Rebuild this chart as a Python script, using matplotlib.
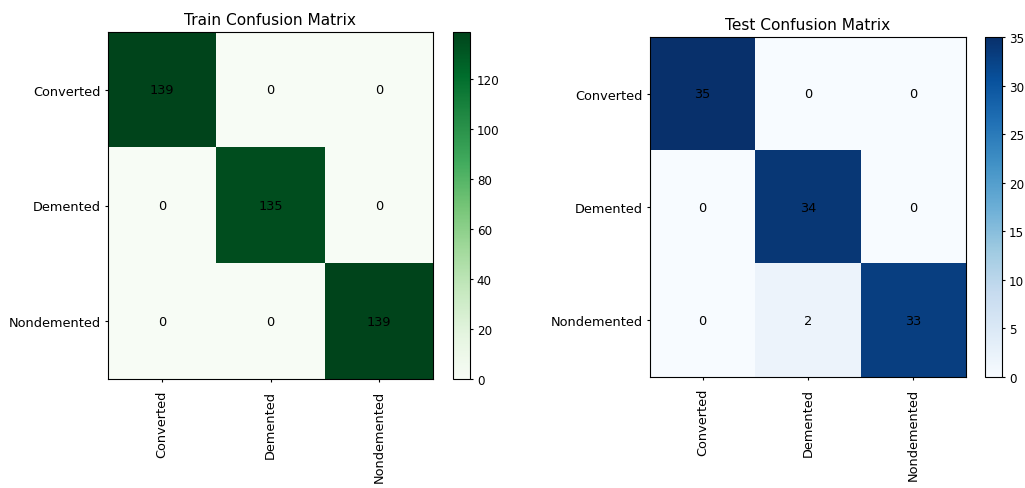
import matplotlib
matplotlib.use("Agg")
import matplotlib.pyplot as plt
import numpy as np

plt.rcParams["font.size"] = 9.3
plt.rcParams["xtick.major.size"] = 2.4
plt.rcParams["ytick.major.size"] = 2.4
plt.rcParams["xtick.major.pad"] = 5.5
plt.rcParams["ytick.major.pad"] = 2.8

classes = ["Converted", "Demented", "Nondemented"]
train_cm = np.array([[139, 0, 0],
                     [0, 135, 0],
                     [0, 0, 139]])
test_cm = np.array([[35, 0, 0],
                    [0, 34, 0],
                    [0, 2, 33]])

fig = plt.figure(figsize=(10.25, 4.89), dpi=100)

def draw_cm(ax, cax, cm, cmap, title):
    im = ax.imshow(cm, cmap=cmap, aspect="auto", interpolation="nearest")
    ax.set_title(title, fontsize=11.1)
    ticks = np.arange(len(classes))
    ax.set_xticks(ticks)
    ax.set_xticklabels(classes, rotation=90)
    ax.set_yticks(ticks)
    ax.set_yticklabels(classes)
    for i in range(cm.shape[0]):
        for j in range(cm.shape[1]):
            ax.text(j, i, str(cm[i, j]), ha="center", va="center", color="black")
    cb = fig.colorbar(im, cax=cax)
    cb.ax.tick_params(labelsize=8.6, length=2.4, pad=2.5)

ax1 = fig.add_axes([108/1025, 1-380/489, 325/1025, 347/489])
cax1 = fig.add_axes([453/1025, 1-380/489, 17/1025, 347/489])
ax2 = fig.add_axes([650/1025, 1-378/489, 316/1025, 340/489])
cax2 = fig.add_axes([985/1025, 1-378/489, 17/1025, 340/489])

draw_cm(ax1, cax1, train_cm, "Greens", "Train Confusion Matrix")
draw_cm(ax2, cax2, test_cm, "Blues", "Test Confusion Matrix")

fig.savefig("out.png", dpi=100)
